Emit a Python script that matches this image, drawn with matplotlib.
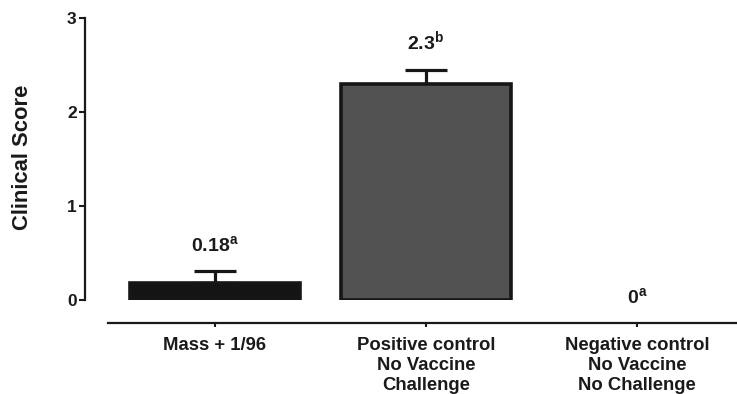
import matplotlib
matplotlib.use("Agg")
import matplotlib.pyplot as plt
import numpy as np

plt.rcParams["font.family"] = ["Liberation Sans", "DejaVu Sans"]
plt.rcParams["font.weight"] = "bold"
plt.rcParams["mathtext.fontset"] = "custom"
plt.rcParams["mathtext.rm"] = "Liberation Sans:bold"
plt.rcParams["mathtext.it"] = "Liberation Sans:bold"
plt.rcParams["mathtext.bf"] = "Liberation Sans:bold"

# 그룹별 임상 점수 (평균, 상단 오차)
groups = [
    "Mass + 1/96",
    "Positive control\nNo Vaccine\nChallenge",
    "Negative control\nNo Vaccine\nNo Challenge",
]
scores = [0.18, 2.3, 0.0]
errors = [0.13, 0.15, 0.0]
value_labels = ["0.18", "2.3", "0"]
letters = ["a", "b", "a"]

fill_colors = ["#141414", "#525252", "#141414"]
EDGE = "#161616"

fig = plt.figure(figsize=(7.37, 3.94), dpi=100, facecolor="white")
ax = fig.add_axes([85 / 737, 94 / 394, 652 / 737, 282 / 394])

x = np.arange(len(groups))
# 높이 0인 막대는 테두리도 그리지 않음
edge_widths = [2.6 if s > 0 else 0 for s in scores]
ax.bar(x, scores, width=0.81, color=fill_colors, edgecolor=EDGE,
       linewidth=edge_widths, zorder=3)

# 오차막대는 값이 있는 그룹만
err = np.array(errors)
mask = err > 0
ax.errorbar(x[mask], np.array(scores)[mask],
            yerr=[np.zeros(mask.sum()), err[mask]],
            fmt="none", ecolor=EDGE, elinewidth=2.3,
            capsize=15, capthick=2.3, zorder=2)

# 막대 위 값 + 유의성 문자
for xi, s, e, txt, let in zip(x, scores, errors, value_labels, letters):
    top = s + e
    dy = 14.5 if top > 0 else -2.5
    ax.annotate(f"{txt}$^{{{let}}}$", xy=(xi, top), xytext=(0, dy),
                textcoords="offset points", ha="center", va="baseline",
                fontsize=14, fontweight="bold", color="#1a1a1a",
                annotation_clip=False)

ax.set_xlim(-0.616, 2.474)
ax.set_ylim(0, 3)

ax.tick_params(axis="y", length=4.5, width=1.5, pad=1.5, colors="#1a1a1a",
               labelsize=12.5)
ax.tick_params(axis="x", length=3, width=1.5, pad=7.5, colors="#1a1a1a",
               labelsize=13.3)

ax.set_yticks([0, 1, 2, 3])
ax.set_yticklabels(["0", "1", "2", "3"], fontsize=12.5, fontweight="bold")
ax.set_xticks(x)
ax.set_xticklabels(groups, fontsize=13.3, fontweight="bold", linespacing=1.15)

ax.set_ylabel("Clinical Score", fontsize=15.8, fontweight="bold", color="#1a1a1a")
ax.yaxis.set_label_coords(-0.080, 0.507)

# Prism 스타일 축: 분리된 x축
for side in ("top", "right"):
    ax.spines[side].set_visible(False)
ax.spines["left"].set_bounds(0, 3)
ax.spines["left"].set_linewidth(1.6)
ax.spines["left"].set_color("#1a1a1a")
ax.spines["bottom"].set_position(("outward", 16.5))
ax.spines["bottom"].set_bounds(-0.507, 2.474)
ax.spines["bottom"].set_linewidth(1.6)
ax.spines["bottom"].set_color("#1a1a1a")

fig.savefig("out.png", dpi=100, facecolor="white")
